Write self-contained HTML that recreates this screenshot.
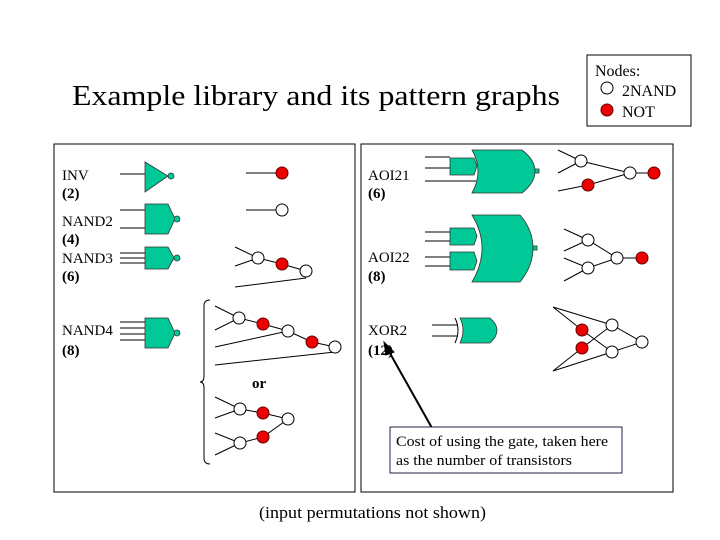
<!DOCTYPE html><html><head><style>body{margin:0;background:#fff}svg{display:block}</style></head><body>
<svg width="720" height="540" viewBox="0 0 720 540" font-family="Liberation Serif, serif" font-size="15">
<text x="72" y="105" font-size="29" textLength="488" lengthAdjust="spacingAndGlyphs">Example library and its pattern graphs</text>
<rect x="587" y="55" width="104" height="71" fill="none" stroke="#000"/>
<text x="595" y="76" font-size="16">Nodes:</text>
<circle cx="607" cy="88" r="6" fill="#fff" stroke="#000"/><text x="622" y="96" font-size="16">2NAND</text>
<circle cx="607" cy="110" r="6" fill="#e00" stroke="#600"/><text x="622" y="117" font-size="16">NOT</text>
<rect x="54" y="144" width="301" height="348" fill="none" stroke="#000"/>
<rect x="361" y="144" width="312" height="348" fill="none" stroke="#000"/>
<g stroke="#000" fill="none">
<path d="M120 174H145M120 210H145M120 228H145M120 253H145M120 258H145M120 263H145M120 322H145M120 328H145M120 334H145M120 340H145"/>
<path d="M246 173H276M246 210H276"/>
<path d="M235 247L258 258M235 266L258 258L282 264L306 271M235 287L306 278"/>
<path d="M215 306L239 318M215 330L239 318L263 324L288 331L312 342L335 347M215 347L288 331M215 365L335 352"/>
<path d="M215 397L240 409L263 413L288 419M215 418L240 409M215 433L240 443L263 437L288 419M215 455L240 443"/>
<path d="M210 300Q204 300 204 306V376Q204 382 200 382Q204 382 204 388V458Q204 464 210 464"/>
<path d="M425 157H450M425 168H450M425 181H476"/>
<path d="M558 150L581 161L630 173L654 173M558 173L581 161M558 191L588 185L630 173"/>
<path d="M425 232H450M425 241H450M425 257H450M425 266H450"/>
<path d="M564 229L588 240L617 258L642 258M564 251L588 240M564 258L588 268L617 258M564 281L588 268"/>
<path d="M432 325H458M432 336H458"/>
<path d="M553 307L612 325L642 342M553 307L582 330L612 352L642 342M553 371L612 352M553 371L582 348L612 325"/>
</g>
<g fill="#00c896" stroke="#333" stroke-width="0.8">
<path d="M145 162L168 176L145 192Z"/><circle cx="171" cy="176" r="3"/>
<path d="M145 204H168L175 219L168 234H145Z"/><circle cx="177" cy="219" r="3"/>
<path d="M145 247H168L174 258L168 269H145Z"/><circle cx="177" cy="258" r="3"/>
<path d="M145 318H168L175 333L168 348H145Z"/><circle cx="177" cy="333" r="3"/>
<path d="M472 150H522Q535 160 535 171Q535 183 522 193H472Q484 171 472 150Z"/><rect x="535" y="169" width="4" height="4"/>
<path d="M450 158H474L477 166L474 175H450Z"/>
<path d="M472 215H520Q533 230 533 248Q533 266 520 282H472Q492 248 472 215Z"/><rect x="533" y="246" width="4" height="4"/>
<path d="M450 228H474L477 236L474 245H450Z"/><path d="M450 252H474L477 261L474 270H450Z"/>
<path d="M460 318H490Q497 324 497 330Q497 337 490 343H460Q466 330 460 318Z"/>
</g>
<path d="M455 318Q461 330 455 343" stroke="#000" fill="none"/>
<g stroke="#000" fill="#fff">
<circle cx="282" cy="210" r="6"/><circle cx="258" cy="258" r="6"/><circle cx="306" cy="271" r="6"/>
<circle cx="239" cy="318" r="6"/><circle cx="288" cy="331" r="6"/><circle cx="335" cy="347" r="6"/>
<circle cx="240" cy="409" r="6"/><circle cx="288" cy="419" r="6"/><circle cx="240" cy="443" r="6"/>
<circle cx="581" cy="161" r="6"/><circle cx="630" cy="173" r="6"/>
<circle cx="588" cy="240" r="6"/><circle cx="588" cy="268" r="6"/><circle cx="617" cy="258" r="6"/>
<circle cx="612" cy="325" r="6"/><circle cx="612" cy="352" r="6"/><circle cx="642" cy="342" r="6"/>
</g>
<g stroke="#600" fill="#e00">
<circle cx="282" cy="173" r="6"/><circle cx="282" cy="264" r="6"/><circle cx="263" cy="324" r="6"/><circle cx="312" cy="342" r="6"/>
<circle cx="263" cy="413" r="6"/><circle cx="263" cy="437" r="6"/>
<circle cx="654" cy="173" r="6"/><circle cx="588" cy="185" r="6"/><circle cx="642" cy="258" r="6"/>
<circle cx="582" cy="330" r="6"/><circle cx="582" cy="348" r="6"/>
</g>
<text x="62" y="180">INV</text><text x="62" y="198" font-weight="bold">(2)</text>
<text x="62" y="226">NAND2</text><text x="62" y="244" font-weight="bold">(4)</text>
<text x="62" y="263">NAND3</text><text x="62" y="281" font-weight="bold">(6)</text>
<text x="62" y="335">NAND4</text><text x="62" y="355" font-weight="bold">(8)</text>
<text x="252" y="388" font-weight="bold">or</text>
<text x="368" y="180">AOI21</text><text x="368" y="198" font-weight="bold">(6)</text>
<text x="368" y="262">AOI22</text><text x="368" y="281" font-weight="bold">(8)</text>
<text x="368" y="335">XOR2</text><text x="368" y="355" font-weight="bold">(12)</text>
<path d="M432 428L387 348" stroke="#000" stroke-width="2"/><path d="M384 342L394 352L386 355Z" fill="#000" stroke="#000"/>
<rect x="390" y="427" width="232" height="46" fill="#fff" stroke="#224"/>
<text x="396" y="446" font-size="15" textLength="212" lengthAdjust="spacingAndGlyphs">Cost of using the gate, taken here</text>
<text x="396" y="465" font-size="15" textLength="176" lengthAdjust="spacingAndGlyphs">as the number of transistors</text>
<text x="259" y="518" font-size="17" textLength="227" lengthAdjust="spacingAndGlyphs">(input permutations not shown)</text>
</svg></body></html>
